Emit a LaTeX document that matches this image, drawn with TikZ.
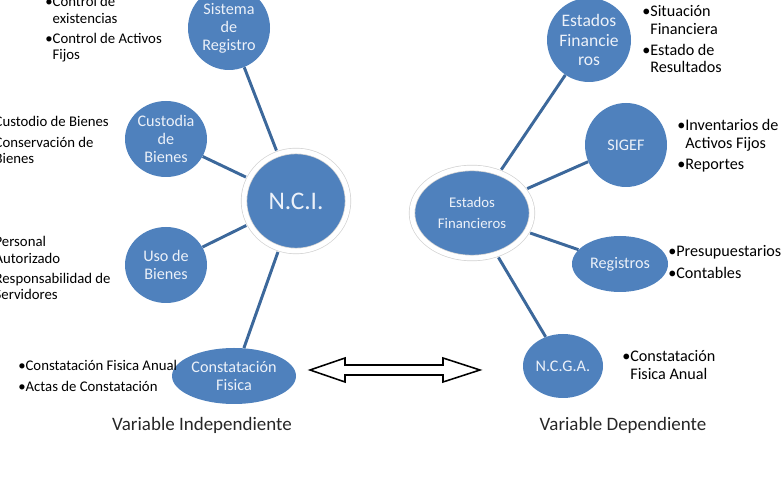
\documentclass[tikz,border=0pt]{standalone}
\usepackage{fontspec}
\setmainfont{Carlito}
\usetikzlibrary{shapes.geometric}
\definecolor{azul}{RGB}{79,129,189}
\definecolor{linea}{RGB}{60,104,155}
\definecolor{claro}{RGB}{236,241,249}
\newcommand{\lista}[1]{\begin{tabular}[t]{@{}l@{}l@{}}#1\end{tabular}}
\begin{document}
\begin{tikzpicture}[
  burbuja/.style={ellipse,fill=azul,inner sep=0pt,text=claro,align=center,font={\fontsize{11.5}{12.8}\selectfont}},
  centro/.style={burbuja,draw=gray!35,double=white,double distance=3.5pt,line width=0.5pt},
  conector/.style={draw=linea,line width=2.1pt},
  flechadoble/.style={draw=black,fill=white,line width=1.1pt,line join=miter},
  listaL/.style={anchor=base west,inner sep=0pt,font={\fontsize{10.5}{11.4}\selectfont}},
  listaR/.style={anchor=base west,inner sep=0pt,font={\fontsize{11.5}{12.2}\selectfont}},
  titulo/.style={text=black!85,font={\fontsize{13.5}{16}\selectfont}}
]
\useasboundingbox (0,0) rectangle (19.6,12.1);
\clip (0,0) rectangle (19.6,12.1);

\node[burbuja,minimum width=2.05cm,minimum height=2.1cm] (sis) at (5.725,11.4) {Sistema\\de\\Registro};
\node[burbuja,minimum width=2.05cm,minimum height=1.9cm] (cus) at (4.15,8.625) {Custodia\\de\\Bienes};
\node[centro,minimum width=2.6cm,minimum height=2.5cm,font={\fontsize{18}{20}\selectfont}] (nci) at (7.4,7.075) {N.C.I.};
\node[burbuja,minimum width=2.05cm,minimum height=1.9cm] (uso) at (4.15,5.475) {Uso de\\Bienes};
\node[burbuja,minimum width=3.1cm,minimum height=1.4cm] (con) at (5.85,2.7) {Constatación\\Fisica};

\node[burbuja,minimum width=2.1cm,minimum height=2.1cm,font={\fontsize{12.5}{14}\selectfont}] (efs) at (14.725,11.1) {Estados\\Financie\\ros};
\node[burbuja,minimum width=2.05cm,minimum height=2.1cm] (sig) at (15.65,8.475) {SIGEF};
\node[centro,minimum width=3.0cm,minimum height=2.25cm,font={\fontsize{10.5}{15.5}\selectfont}] (efb) at (11.8,6.775) {Estados\\Financieros};
\node[burbuja,minimum width=2.4cm,minimum height=1.4cm] (reg) at (15.5,5.5) {Registros};
\node[burbuja,minimum width=2.0cm,minimum height=1.6cm] (ncg) at (14.075,2.95) {N.C.G.A.};

\draw[conector,shorten <=2.5pt] (nci) -- (sis);
\draw[conector,shorten <=2.5pt] (nci) -- (cus);
\draw[conector,shorten <=2.5pt] (nci) -- (uso);
\draw[conector,shorten <=2.5pt] (nci) -- (con);
\draw[conector,shorten <=2.5pt] (efb) -- (efs);
\draw[conector,shorten <=2.5pt] (efb) -- (sig);
\draw[conector,shorten <=2.5pt] (efb) -- (reg);
\draw[conector,shorten <=2.5pt] (efb) -- (ncg);

\coordinate (flecha) at (9.875,2.85);
\draw[flechadoble,shift={(flecha)}] (-2.125,0) -- (-1.25,0.3) -- (-1.25,0.125) -- (1.2,0.125) -- (1.2,0.3) -- (2.125,0) -- (1.2,-0.3) -- (1.2,-0.125) -- (-1.25,-0.125) -- (-1.25,-0.3) -- cycle;

\node[listaL] (l1) at (1.125,11.925) {\lista{\textbullet&Control de\\&existencias\\[3pt]\textbullet&Control de Activos\\&Fijos}};
\node[listaL] (l2) at (-0.325,8.925) {\lista{\textbullet&Custodio de Bienes\\[3pt]\textbullet&Conservación de\\&Bienes}};
\node[listaL] (l3) at (-0.325,5.925) {\lista{\textbullet&Personal\\&Autorizado\\[3pt]\textbullet&Responsabilidad de\\&Servidores}};
\node[listaL] (l4) at (0.45,2.825) {\lista{\textbullet&Constatación Fisica Anual\\[3pt]\textbullet&Actas de Constatación}};

\node[listaR] (r1) at (16.05,11.675) {\lista{\textbullet&Situación\\&Financiera\\[3pt]\textbullet&Estado de\\&Resultados}};
\node[listaR] (r2) at (16.925,8.825) {\lista{\textbullet&Inventarios de\\&Activos Fijos\\[3pt]\textbullet&Reportes}};
\node[listaR] (r3) at (16.7,5.675) {\lista{\textbullet&Presupuestarios\\[3pt]\textbullet&Contables}};
\node[listaR] (r4) at (15.55,3.05) {\lista{\textbullet&Constatación\\&Fisica Anual}};

\node[titulo] (vi) at (5.05,1.475) {Variable Independiente};
\node[titulo] (vd) at (15.575,1.475) {Variable Dependiente};
\end{tikzpicture}
\end{document}
